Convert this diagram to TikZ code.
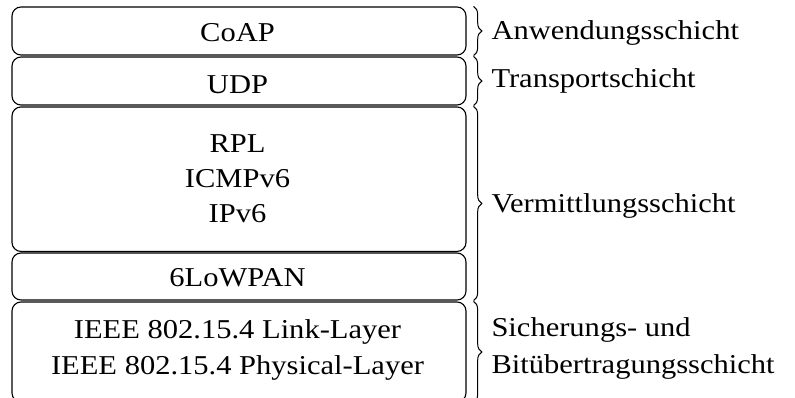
\documentclass[tikz,border=0pt]{standalone}
\usepackage{fontspec}
\setmainfont{Liberation Serif}[FakeStretch=1.12]
\usetikzlibrary{decorations.pathreplacing}
\begin{document}
\begin{tikzpicture}[x=0.4pt,y=-0.4pt,
  layer/.style={draw,line width=0.45pt,rounded corners=3.6pt,minimum width=181.6pt,inner sep=0pt},
  txt/.style={anchor=base,inner sep=0pt,font=\fontsize{10.9}{14.2}\selectfont},
  brc/.style={decorate,line width=0.4pt,decoration={brace,amplitude=3.3pt}},
  lbl/.style={anchor=base west,inner sep=0pt,font=\fontsize{10.9}{14.2}\selectfont}]
\useasboundingbox (0,0) rectangle (795,398);
% layer boxes
\node[layer,minimum height=19.2pt] (coap) at (239,31) {};
\node[layer,minimum height=19.2pt] (udp) at (239,81) {};
\node[layer,minimum height=57.8pt] (net) at (239,179.2) {};
\node[layer,minimum height=18.8pt] (low) at (239,276.5) {};
\node[layer,minimum height=40pt] (ieee) at (239,352) {};
% box texts
\node[txt] (tcoap) at (237.5,41.7) {CoAP};
\node[txt] (tudp) at (237.5,93.3) {UDP};
\node[txt] (trpl) at (237.5,152.3) {RPL};
\node[txt] (ticmp) at (237.5,187.2) {ICMPv6};
\node[txt] (tip) at (237.5,222.3) {IPv6};
\node[txt] (tlow) at (237.5,286.7) {6LoWPAN};
\node[txt] (tlink) at (237.5,338.3) {IEEE 802.15.4 Link-Layer};
\node[txt] (tphy) at (237.5,374.3) {IEEE 802.15.4 Physical-Layer};
% braces
\draw[brc] ([xshift=2.8pt]coap.north east) -- ([xshift=2.8pt]coap.south east);
\draw[brc] ([xshift=2.8pt]udp.north east) -- ([xshift=2.8pt]udp.south east);
\draw[brc] ([xshift=2.8pt]net.north east) -- ([xshift=2.8pt]low.south east);
\draw[brc] ([xshift=2.8pt]ieee.north east) -- ([xshift=2.8pt]ieee.south east);
% brace labels
\node[lbl] (l1) at (491,39.3) {Anwendungsschicht};
\node[lbl] (l2) at (491,87.3) {Transportschicht};
\node[lbl] (l3) at (491,212.3) {Vermittlungsschicht};
\node[lbl] (l4a) at (491,336.7) {Sicherungs- und};
\node[lbl] (l4b) at (491,373.3) {Bitübertragungsschicht};
\end{tikzpicture}
\end{document}
